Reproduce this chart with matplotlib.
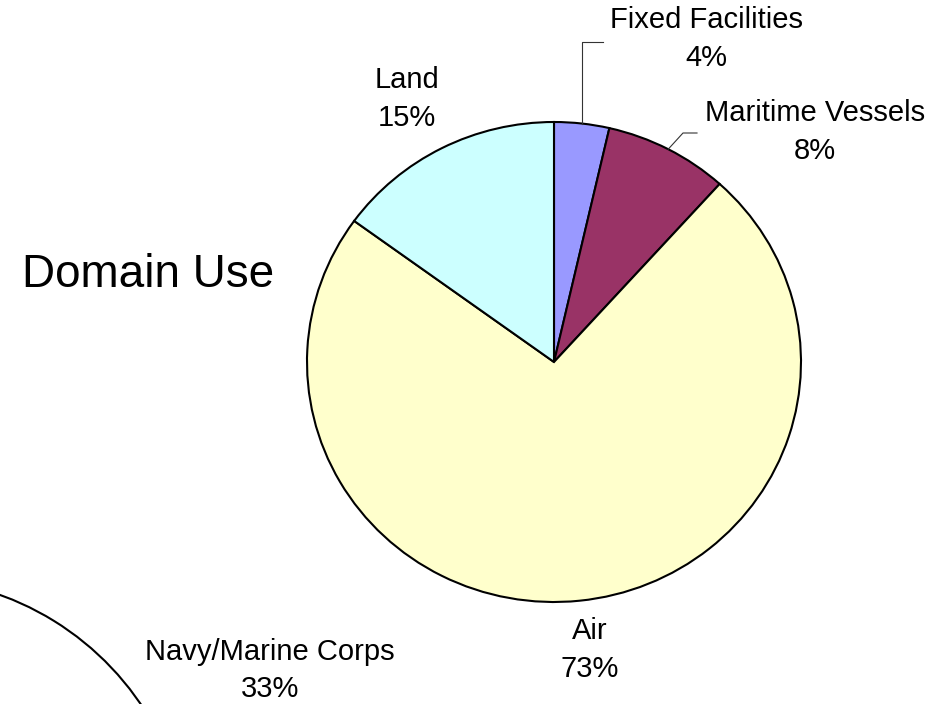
import matplotlib.pyplot as plt
import numpy as np

# datos del grafico principal (uso por dominio)
dominios = ["Fixed Facilities", "Maritime Vessels", "Air", "Land"]
porcentajes = [3.6, 8.1, 73.3, 15.0]
colores = ["#9999FF", "#993366", "#FFFFCC", "#CCFFFF"]

# segundo grafico (cortado en la esquina)
servicios = ["Navy/Marine Corps", ""]
porcentajes_serv = [33, 67]
colores_serv = ["#FFFFFF", "#FFFFFF"]

W, H = 947, 704
plt.rcParams['font.family'] = ['Liberation Sans', 'DejaVu Sans']
fig = plt.figure(figsize=(W / 100, H / 100), dpi=100)

# centro y radios del pastel principal en pixeles
cx, cy, rx, ry = 554, 362, 247, 240
ax = fig.add_axes([(cx - rx) / W, (H - cy - ry) / H, 2 * rx / W, 2 * ry / H])
wedges, _ = ax.pie(porcentajes, colors=colores, startangle=90, counterclock=False,
                   wedgeprops=dict(edgecolor="k", linewidth=1.5))
ax.set_aspect('auto')
ax.set_xlim(-1, 1)
ax.set_ylim(-1, 1)


def a_datos(px, py):
    return (px - cx) / rx, (cy - py) / ry


def texto(px, py, s, size=21):
    fig.text(px / W, 1 - py / H, s, ha="center", va="baseline", fontsize=size)


# etiquetas (nombre y porcentaje)
pos_etiquetas = [(706, 28), (815, 121), (590, 639), (407, 88)]
for nombre, v, (px, py) in zip(dominios, porcentajes, pos_etiquetas):
    texto(px, py, nombre)
    texto(px, py + 38, f"{v:.0f}%")

# lineas guia para las dos porciones pequenas
guias = {0: [(585, 42), (603, 42)], 1: [(683, 133), (697, 133)]}
for i, puntos in guias.items():
    w = wedges[i]
    ang = np.deg2rad((w.theta1 + w.theta2) / 2)
    xs = [np.cos(ang)] + [a_datos(*p)[0] for p in puntos]
    ys = [np.sin(ang)] + [a_datos(*p)[1] for p in puntos]
    xs[1] = xs[0] if i == 0 else xs[1]
    ax.plot(xs, ys, color="#333333", linewidth=0.8, clip_on=False)

texto(148, 287, "Domain Use", size=33)

# segundo pastel, casi fuera de la figura
c2x, c2y, r2 = -97, 865, 287
ax2 = fig.add_axes([(c2x - r2) / W, (H - c2y - r2) / H, 2 * r2 / W, 2 * r2 / H])
ax2.pie(porcentajes_serv, colors=colores_serv, startangle=88, counterclock=False,
        wedgeprops=dict(edgecolor="k", linewidth=1.5))
ax2.set_xlim(-1, 1)
ax2.set_ylim(-1, 1)
texto(270, 660, servicios[0])
texto(270, 697, f"{porcentajes_serv[0]}%")

fig.savefig("out.png", dpi=100)
